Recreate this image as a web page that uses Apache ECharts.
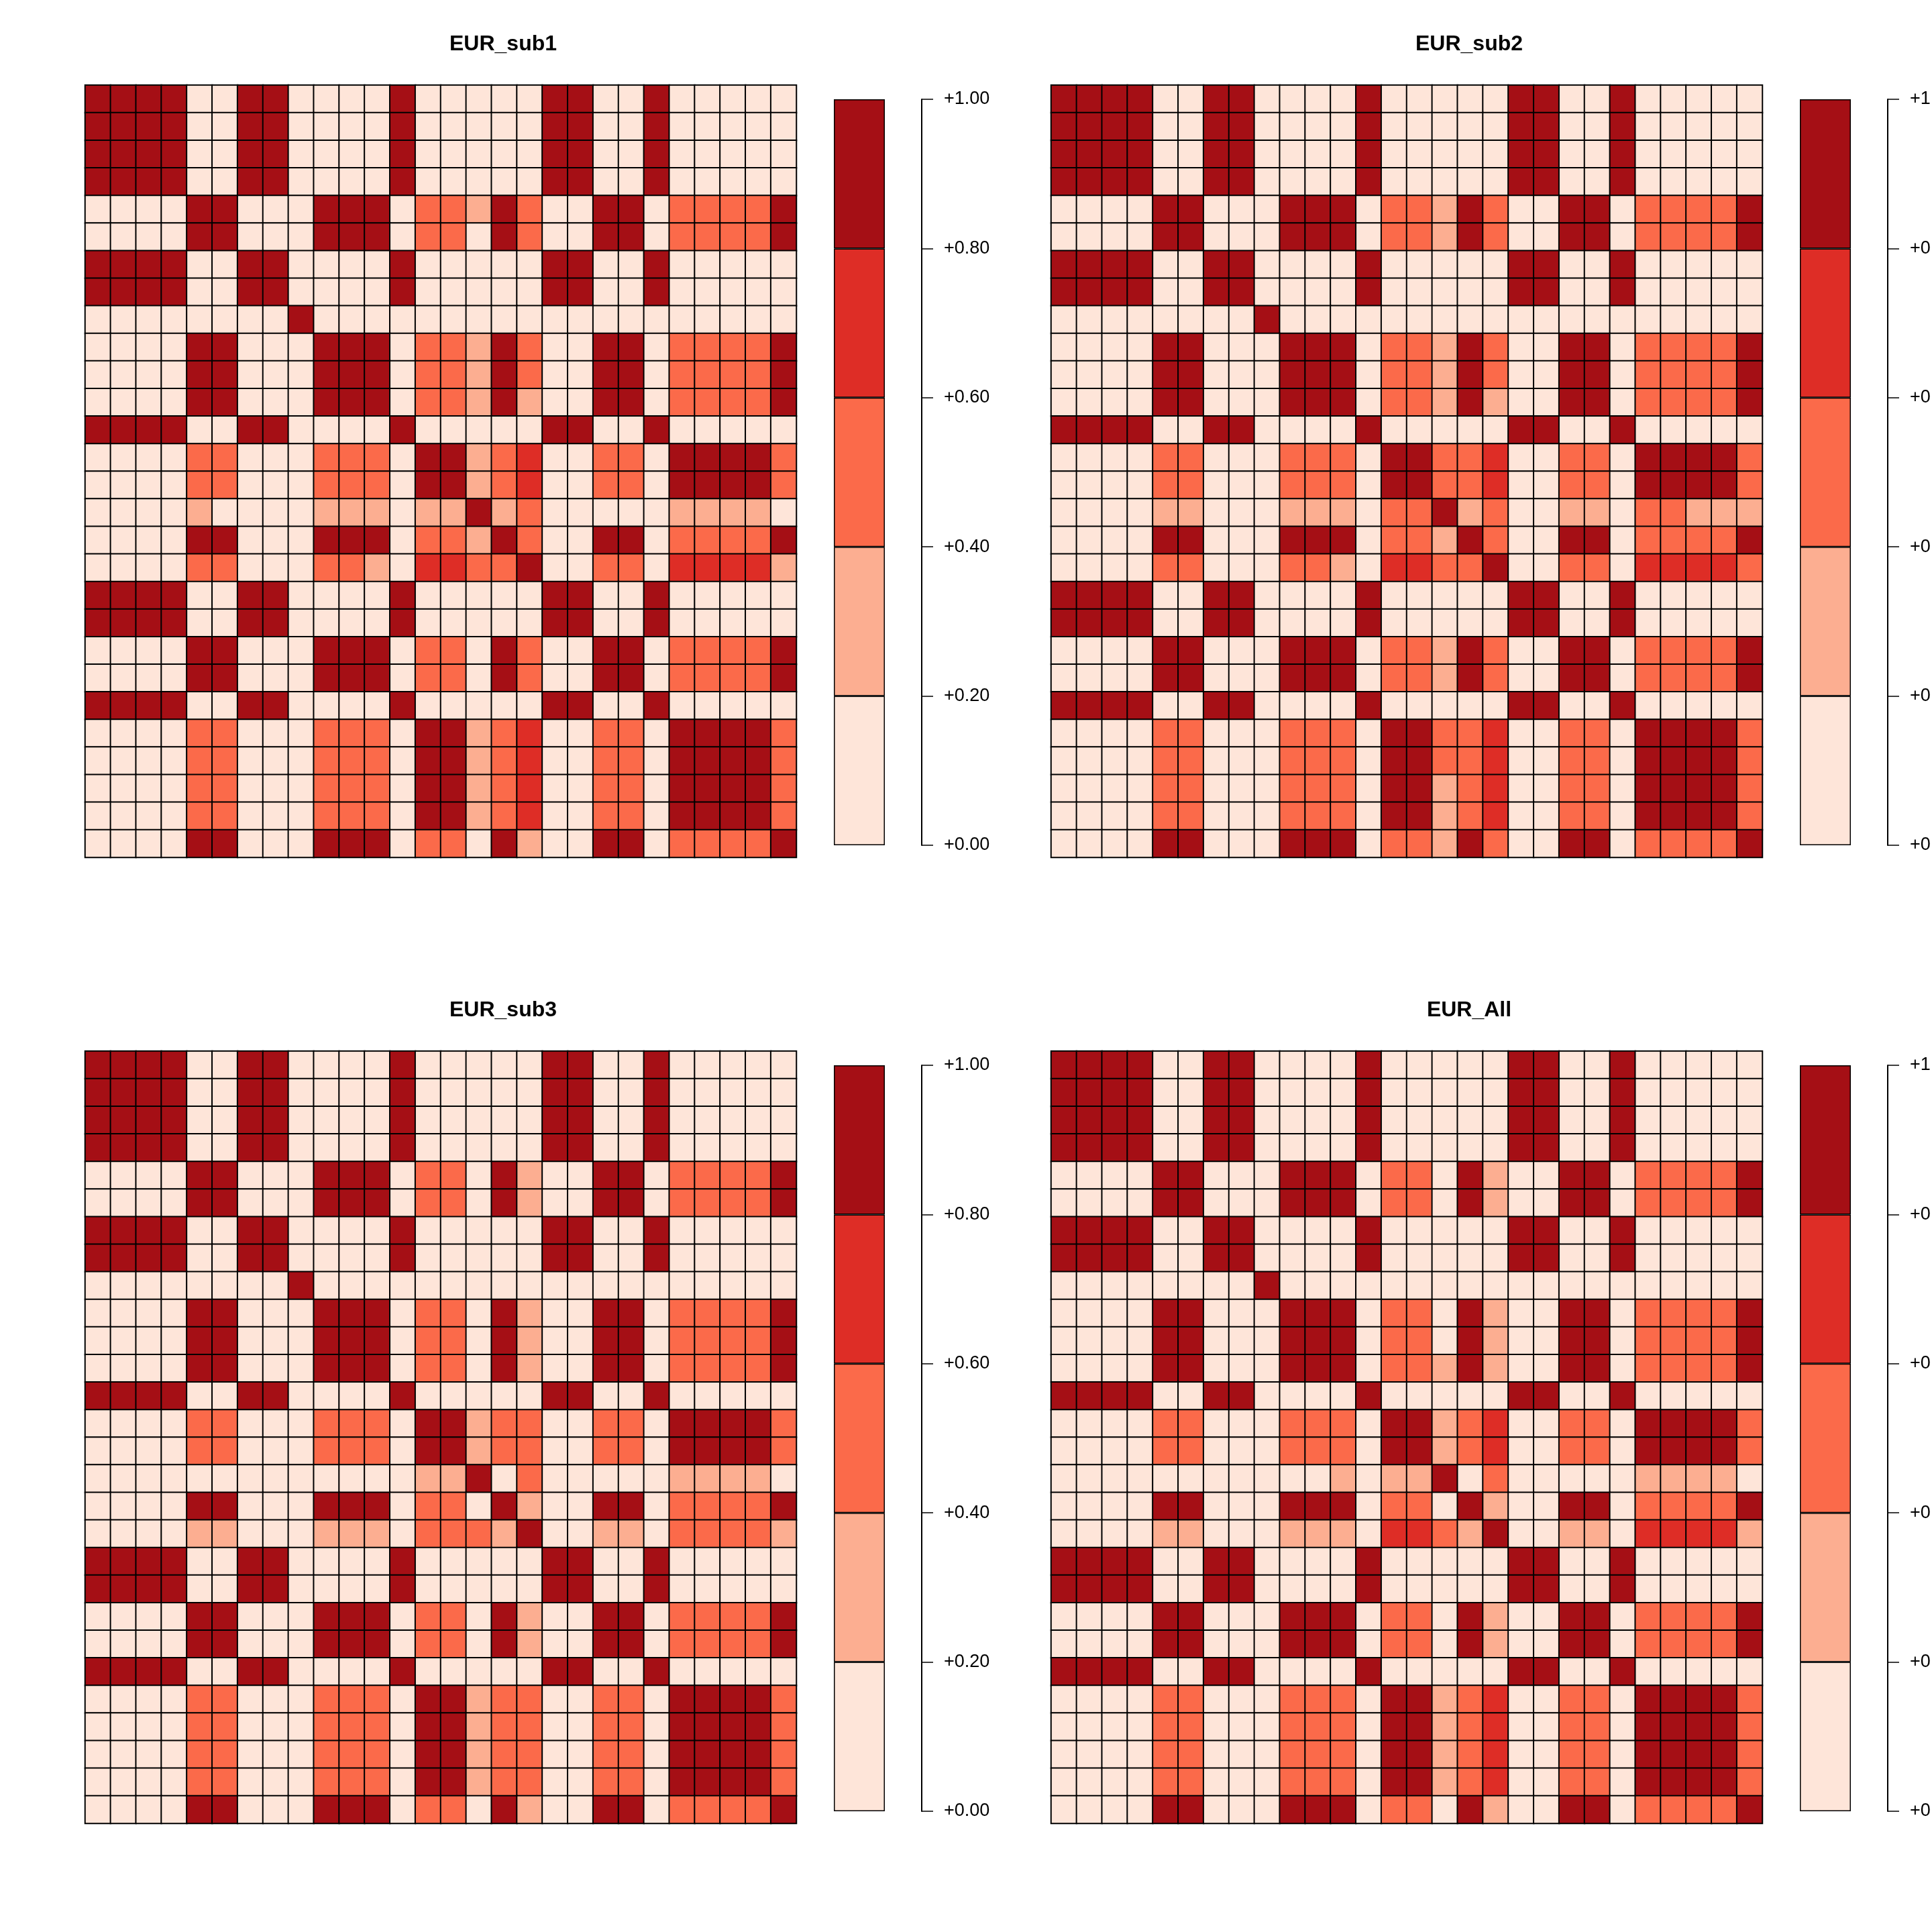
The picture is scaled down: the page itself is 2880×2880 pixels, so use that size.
<!DOCTYPE html>
<html>
<head>
<meta charset="utf-8">
<script src="https://cdn.jsdelivr.net/npm/echarts@6/dist/echarts.min.js"></script>
<style>
html,body{margin:0;padding:0;background:#fff;}
#chart{width:2880px;height:2880px;}
</style>
</head>
<body>
<div id="chart"></div>
<script>
// ---------------- data ----------------
const categories = ['1','2','3','4','5','6','7','8','9','10','11','12','13','14','15','16','17','18','19','20','21','22','23','24','25','26','27','28'];
const panelTitles = ['EUR_sub1', 'EUR_sub2', 'EUR_sub3', 'EUR_All'];
const colorBreaks = [0, 0.2, 0.4, 0.6, 0.8, 1.0];
const binColors = ['#FEE5D9', '#FCAE91', '#FB6A4A', '#DE2D26', '#A50F15'];
const tickLabels = ['+0.00', '+0.20', '+0.40', '+0.60', '+0.80', '+1.00'];

const EUR_sub1 = [
 [.9,.9,.9,.9,.1,.1,.9,.9,.1,.1,.1,.1,.9,.1,.1,.1,.1,.1,.9,.9,.1,.1,.9,.1,.1,.1,.1,.1],
 [.9,.9,.9,.9,.1,.1,.9,.9,.1,.1,.1,.1,.9,.1,.1,.1,.1,.1,.9,.9,.1,.1,.9,.1,.1,.1,.1,.1],
 [.9,.9,.9,.9,.1,.1,.9,.9,.1,.1,.1,.1,.9,.1,.1,.1,.1,.1,.9,.9,.1,.1,.9,.1,.1,.1,.1,.1],
 [.9,.9,.9,.9,.1,.1,.9,.9,.1,.1,.1,.1,.9,.1,.1,.1,.1,.1,.9,.9,.1,.1,.9,.1,.1,.1,.1,.1],
 [.1,.1,.1,.1,.9,.9,.1,.1,.1,.9,.9,.9,.1,.5,.5,.3,.9,.5,.1,.1,.9,.9,.1,.5,.5,.5,.5,.9],
 [.1,.1,.1,.1,.9,.9,.1,.1,.1,.9,.9,.9,.1,.5,.5,.1,.9,.5,.1,.1,.9,.9,.1,.5,.5,.5,.5,.9],
 [.9,.9,.9,.9,.1,.1,.9,.9,.1,.1,.1,.1,.9,.1,.1,.1,.1,.1,.9,.9,.1,.1,.9,.1,.1,.1,.1,.1],
 [.9,.9,.9,.9,.1,.1,.9,.9,.1,.1,.1,.1,.9,.1,.1,.1,.1,.1,.9,.9,.1,.1,.9,.1,.1,.1,.1,.1],
 [.1,.1,.1,.1,.1,.1,.1,.1,.9,.1,.1,.1,.1,.1,.1,.1,.1,.1,.1,.1,.1,.1,.1,.1,.1,.1,.1,.1],
 [.1,.1,.1,.1,.9,.9,.1,.1,.1,.9,.9,.9,.1,.5,.5,.3,.9,.5,.1,.1,.9,.9,.1,.5,.5,.5,.5,.9],
 [.1,.1,.1,.1,.9,.9,.1,.1,.1,.9,.9,.9,.1,.5,.5,.3,.9,.5,.1,.1,.9,.9,.1,.5,.5,.5,.5,.9],
 [.1,.1,.1,.1,.9,.9,.1,.1,.1,.9,.9,.9,.1,.5,.5,.3,.9,.3,.1,.1,.9,.9,.1,.5,.5,.5,.5,.9],
 [.9,.9,.9,.9,.1,.1,.9,.9,.1,.1,.1,.1,.9,.1,.1,.1,.1,.1,.9,.9,.1,.1,.9,.1,.1,.1,.1,.1],
 [.1,.1,.1,.1,.5,.5,.1,.1,.1,.5,.5,.5,.1,.9,.9,.3,.5,.7,.1,.1,.5,.5,.1,.9,.9,.9,.9,.5],
 [.1,.1,.1,.1,.5,.5,.1,.1,.1,.5,.5,.5,.1,.9,.9,.3,.5,.7,.1,.1,.5,.5,.1,.9,.9,.9,.9,.5],
 [.1,.1,.1,.1,.3,.1,.1,.1,.1,.3,.3,.3,.1,.3,.3,.9,.3,.5,.1,.1,.1,.1,.1,.3,.3,.3,.3,.1],
 [.1,.1,.1,.1,.9,.9,.1,.1,.1,.9,.9,.9,.1,.5,.5,.3,.9,.5,.1,.1,.9,.9,.1,.5,.5,.5,.5,.9],
 [.1,.1,.1,.1,.5,.5,.1,.1,.1,.5,.5,.3,.1,.7,.7,.5,.5,.9,.1,.1,.5,.5,.1,.7,.7,.7,.7,.3],
 [.9,.9,.9,.9,.1,.1,.9,.9,.1,.1,.1,.1,.9,.1,.1,.1,.1,.1,.9,.9,.1,.1,.9,.1,.1,.1,.1,.1],
 [.9,.9,.9,.9,.1,.1,.9,.9,.1,.1,.1,.1,.9,.1,.1,.1,.1,.1,.9,.9,.1,.1,.9,.1,.1,.1,.1,.1],
 [.1,.1,.1,.1,.9,.9,.1,.1,.1,.9,.9,.9,.1,.5,.5,.1,.9,.5,.1,.1,.9,.9,.1,.5,.5,.5,.5,.9],
 [.1,.1,.1,.1,.9,.9,.1,.1,.1,.9,.9,.9,.1,.5,.5,.1,.9,.5,.1,.1,.9,.9,.1,.5,.5,.5,.5,.9],
 [.9,.9,.9,.9,.1,.1,.9,.9,.1,.1,.1,.1,.9,.1,.1,.1,.1,.1,.9,.9,.1,.1,.9,.1,.1,.1,.1,.1],
 [.1,.1,.1,.1,.5,.5,.1,.1,.1,.5,.5,.5,.1,.9,.9,.3,.5,.7,.1,.1,.5,.5,.1,.9,.9,.9,.9,.5],
 [.1,.1,.1,.1,.5,.5,.1,.1,.1,.5,.5,.5,.1,.9,.9,.3,.5,.7,.1,.1,.5,.5,.1,.9,.9,.9,.9,.5],
 [.1,.1,.1,.1,.5,.5,.1,.1,.1,.5,.5,.5,.1,.9,.9,.3,.5,.7,.1,.1,.5,.5,.1,.9,.9,.9,.9,.5],
 [.1,.1,.1,.1,.5,.5,.1,.1,.1,.5,.5,.5,.1,.9,.9,.3,.5,.7,.1,.1,.5,.5,.1,.9,.9,.9,.9,.5],
 [.1,.1,.1,.1,.9,.9,.1,.1,.1,.9,.9,.9,.1,.5,.5,.1,.9,.3,.1,.1,.9,.9,.1,.5,.5,.5,.5,.9]
];

const EUR_sub2 = [
 [.9,.9,.9,.9,.1,.1,.9,.9,.1,.1,.1,.1,.9,.1,.1,.1,.1,.1,.9,.9,.1,.1,.9,.1,.1,.1,.1,.1],
 [.9,.9,.9,.9,.1,.1,.9,.9,.1,.1,.1,.1,.9,.1,.1,.1,.1,.1,.9,.9,.1,.1,.9,.1,.1,.1,.1,.1],
 [.9,.9,.9,.9,.1,.1,.9,.9,.1,.1,.1,.1,.9,.1,.1,.1,.1,.1,.9,.9,.1,.1,.9,.1,.1,.1,.1,.1],
 [.9,.9,.9,.9,.1,.1,.9,.9,.1,.1,.1,.1,.9,.1,.1,.1,.1,.1,.9,.9,.1,.1,.9,.1,.1,.1,.1,.1],
 [.1,.1,.1,.1,.9,.9,.1,.1,.1,.9,.9,.9,.1,.5,.5,.3,.9,.5,.1,.1,.9,.9,.1,.5,.5,.5,.5,.9],
 [.1,.1,.1,.1,.9,.9,.1,.1,.1,.9,.9,.9,.1,.5,.5,.3,.9,.5,.1,.1,.9,.9,.1,.5,.5,.5,.5,.9],
 [.9,.9,.9,.9,.1,.1,.9,.9,.1,.1,.1,.1,.9,.1,.1,.1,.1,.1,.9,.9,.1,.1,.9,.1,.1,.1,.1,.1],
 [.9,.9,.9,.9,.1,.1,.9,.9,.1,.1,.1,.1,.9,.1,.1,.1,.1,.1,.9,.9,.1,.1,.9,.1,.1,.1,.1,.1],
 [.1,.1,.1,.1,.1,.1,.1,.1,.9,.1,.1,.1,.1,.1,.1,.1,.1,.1,.1,.1,.1,.1,.1,.1,.1,.1,.1,.1],
 [.1,.1,.1,.1,.9,.9,.1,.1,.1,.9,.9,.9,.1,.5,.5,.3,.9,.5,.1,.1,.9,.9,.1,.5,.5,.5,.5,.9],
 [.1,.1,.1,.1,.9,.9,.1,.1,.1,.9,.9,.9,.1,.5,.5,.3,.9,.5,.1,.1,.9,.9,.1,.5,.5,.5,.5,.9],
 [.1,.1,.1,.1,.9,.9,.1,.1,.1,.9,.9,.9,.1,.5,.5,.3,.9,.3,.1,.1,.9,.9,.1,.5,.5,.5,.5,.9],
 [.9,.9,.9,.9,.1,.1,.9,.9,.1,.1,.1,.1,.9,.1,.1,.1,.1,.1,.9,.9,.1,.1,.9,.1,.1,.1,.1,.1],
 [.1,.1,.1,.1,.5,.5,.1,.1,.1,.5,.5,.5,.1,.9,.9,.5,.5,.7,.1,.1,.5,.5,.1,.9,.9,.9,.9,.5],
 [.1,.1,.1,.1,.5,.5,.1,.1,.1,.5,.5,.5,.1,.9,.9,.5,.5,.7,.1,.1,.5,.5,.1,.9,.9,.9,.9,.5],
 [.1,.1,.1,.1,.3,.3,.1,.1,.1,.3,.3,.3,.1,.5,.5,.9,.3,.5,.1,.1,.3,.3,.1,.5,.5,.3,.3,.3],
 [.1,.1,.1,.1,.9,.9,.1,.1,.1,.9,.9,.9,.1,.5,.5,.3,.9,.5,.1,.1,.9,.9,.1,.5,.5,.5,.5,.9],
 [.1,.1,.1,.1,.5,.5,.1,.1,.1,.5,.5,.3,.1,.7,.7,.5,.5,.9,.1,.1,.5,.5,.1,.7,.7,.7,.7,.5],
 [.9,.9,.9,.9,.1,.1,.9,.9,.1,.1,.1,.1,.9,.1,.1,.1,.1,.1,.9,.9,.1,.1,.9,.1,.1,.1,.1,.1],
 [.9,.9,.9,.9,.1,.1,.9,.9,.1,.1,.1,.1,.9,.1,.1,.1,.1,.1,.9,.9,.1,.1,.9,.1,.1,.1,.1,.1],
 [.1,.1,.1,.1,.9,.9,.1,.1,.1,.9,.9,.9,.1,.5,.5,.3,.9,.5,.1,.1,.9,.9,.1,.5,.5,.5,.5,.9],
 [.1,.1,.1,.1,.9,.9,.1,.1,.1,.9,.9,.9,.1,.5,.5,.3,.9,.5,.1,.1,.9,.9,.1,.5,.5,.5,.5,.9],
 [.9,.9,.9,.9,.1,.1,.9,.9,.1,.1,.1,.1,.9,.1,.1,.1,.1,.1,.9,.9,.1,.1,.9,.1,.1,.1,.1,.1],
 [.1,.1,.1,.1,.5,.5,.1,.1,.1,.5,.5,.5,.1,.9,.9,.5,.5,.7,.1,.1,.5,.5,.1,.9,.9,.9,.9,.5],
 [.1,.1,.1,.1,.5,.5,.1,.1,.1,.5,.5,.5,.1,.9,.9,.5,.5,.7,.1,.1,.5,.5,.1,.9,.9,.9,.9,.5],
 [.1,.1,.1,.1,.5,.5,.1,.1,.1,.5,.5,.5,.1,.9,.9,.3,.5,.7,.1,.1,.5,.5,.1,.9,.9,.9,.9,.5],
 [.1,.1,.1,.1,.5,.5,.1,.1,.1,.5,.5,.5,.1,.9,.9,.3,.5,.7,.1,.1,.5,.5,.1,.9,.9,.9,.9,.5],
 [.1,.1,.1,.1,.9,.9,.1,.1,.1,.9,.9,.9,.1,.5,.5,.3,.9,.5,.1,.1,.9,.9,.1,.5,.5,.5,.5,.9]
];

const EUR_sub3 = [
 [.9,.9,.9,.9,.1,.1,.9,.9,.1,.1,.1,.1,.9,.1,.1,.1,.1,.1,.9,.9,.1,.1,.9,.1,.1,.1,.1,.1],
 [.9,.9,.9,.9,.1,.1,.9,.9,.1,.1,.1,.1,.9,.1,.1,.1,.1,.1,.9,.9,.1,.1,.9,.1,.1,.1,.1,.1],
 [.9,.9,.9,.9,.1,.1,.9,.9,.1,.1,.1,.1,.9,.1,.1,.1,.1,.1,.9,.9,.1,.1,.9,.1,.1,.1,.1,.1],
 [.9,.9,.9,.9,.1,.1,.9,.9,.1,.1,.1,.1,.9,.1,.1,.1,.1,.1,.9,.9,.1,.1,.9,.1,.1,.1,.1,.1],
 [.1,.1,.1,.1,.9,.9,.1,.1,.1,.9,.9,.9,.1,.5,.5,.1,.9,.3,.1,.1,.9,.9,.1,.5,.5,.5,.5,.9],
 [.1,.1,.1,.1,.9,.9,.1,.1,.1,.9,.9,.9,.1,.5,.5,.1,.9,.3,.1,.1,.9,.9,.1,.5,.5,.5,.5,.9],
 [.9,.9,.9,.9,.1,.1,.9,.9,.1,.1,.1,.1,.9,.1,.1,.1,.1,.1,.9,.9,.1,.1,.9,.1,.1,.1,.1,.1],
 [.9,.9,.9,.9,.1,.1,.9,.9,.1,.1,.1,.1,.9,.1,.1,.1,.1,.1,.9,.9,.1,.1,.9,.1,.1,.1,.1,.1],
 [.1,.1,.1,.1,.1,.1,.1,.1,.9,.1,.1,.1,.1,.1,.1,.1,.1,.1,.1,.1,.1,.1,.1,.1,.1,.1,.1,.1],
 [.1,.1,.1,.1,.9,.9,.1,.1,.1,.9,.9,.9,.1,.5,.5,.1,.9,.3,.1,.1,.9,.9,.1,.5,.5,.5,.5,.9],
 [.1,.1,.1,.1,.9,.9,.1,.1,.1,.9,.9,.9,.1,.5,.5,.1,.9,.3,.1,.1,.9,.9,.1,.5,.5,.5,.5,.9],
 [.1,.1,.1,.1,.9,.9,.1,.1,.1,.9,.9,.9,.1,.5,.5,.1,.9,.3,.1,.1,.9,.9,.1,.5,.5,.5,.5,.9],
 [.9,.9,.9,.9,.1,.1,.9,.9,.1,.1,.1,.1,.9,.1,.1,.1,.1,.1,.9,.9,.1,.1,.9,.1,.1,.1,.1,.1],
 [.1,.1,.1,.1,.5,.5,.1,.1,.1,.5,.5,.5,.1,.9,.9,.3,.5,.5,.1,.1,.5,.5,.1,.9,.9,.9,.9,.5],
 [.1,.1,.1,.1,.5,.5,.1,.1,.1,.5,.5,.5,.1,.9,.9,.3,.5,.5,.1,.1,.5,.5,.1,.9,.9,.9,.9,.5],
 [.1,.1,.1,.1,.1,.1,.1,.1,.1,.1,.1,.1,.1,.3,.3,.9,.1,.5,.1,.1,.1,.1,.1,.3,.3,.3,.3,.1],
 [.1,.1,.1,.1,.9,.9,.1,.1,.1,.9,.9,.9,.1,.5,.5,.1,.9,.3,.1,.1,.9,.9,.1,.5,.5,.5,.5,.9],
 [.1,.1,.1,.1,.3,.3,.1,.1,.1,.3,.3,.3,.1,.5,.5,.5,.3,.9,.1,.1,.3,.3,.1,.5,.5,.5,.5,.3],
 [.9,.9,.9,.9,.1,.1,.9,.9,.1,.1,.1,.1,.9,.1,.1,.1,.1,.1,.9,.9,.1,.1,.9,.1,.1,.1,.1,.1],
 [.9,.9,.9,.9,.1,.1,.9,.9,.1,.1,.1,.1,.9,.1,.1,.1,.1,.1,.9,.9,.1,.1,.9,.1,.1,.1,.1,.1],
 [.1,.1,.1,.1,.9,.9,.1,.1,.1,.9,.9,.9,.1,.5,.5,.1,.9,.3,.1,.1,.9,.9,.1,.5,.5,.5,.5,.9],
 [.1,.1,.1,.1,.9,.9,.1,.1,.1,.9,.9,.9,.1,.5,.5,.1,.9,.3,.1,.1,.9,.9,.1,.5,.5,.5,.5,.9],
 [.9,.9,.9,.9,.1,.1,.9,.9,.1,.1,.1,.1,.9,.1,.1,.1,.1,.1,.9,.9,.1,.1,.9,.1,.1,.1,.1,.1],
 [.1,.1,.1,.1,.5,.5,.1,.1,.1,.5,.5,.5,.1,.9,.9,.3,.5,.5,.1,.1,.5,.5,.1,.9,.9,.9,.9,.5],
 [.1,.1,.1,.1,.5,.5,.1,.1,.1,.5,.5,.5,.1,.9,.9,.3,.5,.5,.1,.1,.5,.5,.1,.9,.9,.9,.9,.5],
 [.1,.1,.1,.1,.5,.5,.1,.1,.1,.5,.5,.5,.1,.9,.9,.3,.5,.5,.1,.1,.5,.5,.1,.9,.9,.9,.9,.5],
 [.1,.1,.1,.1,.5,.5,.1,.1,.1,.5,.5,.5,.1,.9,.9,.3,.5,.5,.1,.1,.5,.5,.1,.9,.9,.9,.9,.5],
 [.1,.1,.1,.1,.9,.9,.1,.1,.1,.9,.9,.9,.1,.5,.5,.1,.9,.3,.1,.1,.9,.9,.1,.5,.5,.5,.5,.9]
];

const EUR_All = [
 [.9,.9,.9,.9,.1,.1,.9,.9,.1,.1,.1,.1,.9,.1,.1,.1,.1,.1,.9,.9,.1,.1,.9,.1,.1,.1,.1,.1],
 [.9,.9,.9,.9,.1,.1,.9,.9,.1,.1,.1,.1,.9,.1,.1,.1,.1,.1,.9,.9,.1,.1,.9,.1,.1,.1,.1,.1],
 [.9,.9,.9,.9,.1,.1,.9,.9,.1,.1,.1,.1,.9,.1,.1,.1,.1,.1,.9,.9,.1,.1,.9,.1,.1,.1,.1,.1],
 [.9,.9,.9,.9,.1,.1,.9,.9,.1,.1,.1,.1,.9,.1,.1,.1,.1,.1,.9,.9,.1,.1,.9,.1,.1,.1,.1,.1],
 [.1,.1,.1,.1,.9,.9,.1,.1,.1,.9,.9,.9,.1,.5,.5,.1,.9,.3,.1,.1,.9,.9,.1,.5,.5,.5,.5,.9],
 [.1,.1,.1,.1,.9,.9,.1,.1,.1,.9,.9,.9,.1,.5,.5,.1,.9,.3,.1,.1,.9,.9,.1,.5,.5,.5,.5,.9],
 [.9,.9,.9,.9,.1,.1,.9,.9,.1,.1,.1,.1,.9,.1,.1,.1,.1,.1,.9,.9,.1,.1,.9,.1,.1,.1,.1,.1],
 [.9,.9,.9,.9,.1,.1,.9,.9,.1,.1,.1,.1,.9,.1,.1,.1,.1,.1,.9,.9,.1,.1,.9,.1,.1,.1,.1,.1],
 [.1,.1,.1,.1,.1,.1,.1,.1,.9,.1,.1,.1,.1,.1,.1,.1,.1,.1,.1,.1,.1,.1,.1,.1,.1,.1,.1,.1],
 [.1,.1,.1,.1,.9,.9,.1,.1,.1,.9,.9,.9,.1,.5,.5,.1,.9,.3,.1,.1,.9,.9,.1,.5,.5,.5,.5,.9],
 [.1,.1,.1,.1,.9,.9,.1,.1,.1,.9,.9,.9,.1,.5,.5,.1,.9,.3,.1,.1,.9,.9,.1,.5,.5,.5,.5,.9],
 [.1,.1,.1,.1,.9,.9,.1,.1,.1,.9,.9,.9,.1,.5,.5,.3,.9,.3,.1,.1,.9,.9,.1,.5,.5,.5,.5,.9],
 [.9,.9,.9,.9,.1,.1,.9,.9,.1,.1,.1,.1,.9,.1,.1,.1,.1,.1,.9,.9,.1,.1,.9,.1,.1,.1,.1,.1],
 [.1,.1,.1,.1,.5,.5,.1,.1,.1,.5,.5,.5,.1,.9,.9,.3,.5,.7,.1,.1,.5,.5,.1,.9,.9,.9,.9,.5],
 [.1,.1,.1,.1,.5,.5,.1,.1,.1,.5,.5,.5,.1,.9,.9,.3,.5,.7,.1,.1,.5,.5,.1,.9,.9,.9,.9,.5],
 [.1,.1,.1,.1,.1,.1,.1,.1,.1,.1,.1,.3,.1,.3,.3,.9,.1,.5,.1,.1,.1,.1,.1,.3,.3,.3,.3,.1],
 [.1,.1,.1,.1,.9,.9,.1,.1,.1,.9,.9,.9,.1,.5,.5,.1,.9,.3,.1,.1,.9,.9,.1,.5,.5,.5,.5,.9],
 [.1,.1,.1,.1,.3,.3,.1,.1,.1,.3,.3,.3,.1,.7,.7,.5,.3,.9,.1,.1,.3,.3,.1,.7,.7,.7,.7,.3],
 [.9,.9,.9,.9,.1,.1,.9,.9,.1,.1,.1,.1,.9,.1,.1,.1,.1,.1,.9,.9,.1,.1,.9,.1,.1,.1,.1,.1],
 [.9,.9,.9,.9,.1,.1,.9,.9,.1,.1,.1,.1,.9,.1,.1,.1,.1,.1,.9,.9,.1,.1,.9,.1,.1,.1,.1,.1],
 [.1,.1,.1,.1,.9,.9,.1,.1,.1,.9,.9,.9,.1,.5,.5,.1,.9,.3,.1,.1,.9,.9,.1,.5,.5,.5,.5,.9],
 [.1,.1,.1,.1,.9,.9,.1,.1,.1,.9,.9,.9,.1,.5,.5,.1,.9,.3,.1,.1,.9,.9,.1,.5,.5,.5,.5,.9],
 [.9,.9,.9,.9,.1,.1,.9,.9,.1,.1,.1,.1,.9,.1,.1,.1,.1,.1,.9,.9,.1,.1,.9,.1,.1,.1,.1,.1],
 [.1,.1,.1,.1,.5,.5,.1,.1,.1,.5,.5,.5,.1,.9,.9,.3,.5,.7,.1,.1,.5,.5,.1,.9,.9,.9,.9,.5],
 [.1,.1,.1,.1,.5,.5,.1,.1,.1,.5,.5,.5,.1,.9,.9,.3,.5,.7,.1,.1,.5,.5,.1,.9,.9,.9,.9,.5],
 [.1,.1,.1,.1,.5,.5,.1,.1,.1,.5,.5,.5,.1,.9,.9,.3,.5,.7,.1,.1,.5,.5,.1,.9,.9,.9,.9,.5],
 [.1,.1,.1,.1,.5,.5,.1,.1,.1,.5,.5,.5,.1,.9,.9,.3,.5,.7,.1,.1,.5,.5,.1,.9,.9,.9,.9,.5],
 [.1,.1,.1,.1,.9,.9,.1,.1,.1,.9,.9,.9,.1,.5,.5,.1,.9,.3,.1,.1,.9,.9,.1,.5,.5,.5,.5,.9]
];

const matrices = [EUR_sub1, EUR_sub2, EUR_sub3, EUR_All];

// ---------------- layout ----------------
const FONT = '"Liberation Sans", Arial, Helvetica, sans-serif';
const offsets = [[0, 0], [1440, 0], [0, 1440], [1440, 1440]];
const HEAT = { left: 127, top: 127, width: 1060, height: 1151 };
const BAR = { left: 1243, top: 148, width: 76, height: 1112 };

const grid = [], xAxis = [], yAxis = [], series = [], graphic = [];

offsets.forEach(([ox, oy], p) => {
  const gH = grid.length;
  grid.push({ left: HEAT.left + ox, top: HEAT.top + oy, width: HEAT.width, height: HEAT.height, containLabel: false, outerBoundsMode: 'none' });
  xAxis.push({ type: 'category', gridIndex: gH, data: categories, show: false });
  yAxis.push({ type: 'category', gridIndex: gH, data: categories, inverse: true, show: false });
  const data = [];
  matrices[p].forEach((row, r) => row.forEach((v, c) => data.push([c, r, v])));
  series.push({
    type: 'heatmap', xAxisIndex: gH, yAxisIndex: gH, data: data,
    itemStyle: { borderColor: '#000', borderWidth: 2 },
    emphasis: { disabled: true }, silent: true
  });

  const gB = grid.length;
  grid.push({ left: BAR.left + ox, top: BAR.top + oy, width: BAR.width, height: BAR.height, containLabel: false, outerBoundsMode: 'none' });
  xAxis.push({ type: 'category', gridIndex: gB, data: ['key'], show: false });
  yAxis.push({
    type: 'value', gridIndex: gB, min: 0, max: 1, interval: 0.2,
    position: 'right', offset: 1374 - (BAR.left + BAR.width),
    splitLine: { show: false },
    axisLine: { show: true, lineStyle: { color: '#000', width: 2 } },
    axisTick: { show: true, inside: false, length: 17, lineStyle: { color: '#000', width: 1.5 } },
    axisLabel: {
      show: true, margin: 33, color: '#000', fontFamily: FONT, fontSize: 27,
      formatter: v => tickLabels[Math.round(v / 0.2)]
    }
  });
  for (let k = 0; k < binColors.length; k++) {
    series.push({
      type: 'bar', xAxisIndex: gB, yAxisIndex: gB, stack: 'key' + p,
      barWidth: '100%', silent: true,
      data: [+(colorBreaks[k + 1] - colorBreaks[k]).toFixed(2)],
      itemStyle: { color: binColors[k], borderColor: '#000', borderWidth: 1.5 }
    });
  }

  graphic.push({
    type: 'text', x: 750 + ox, y: 66 + oy, silent: true,
    style: { text: panelTitles[p], fill: '#000', font: 'bold 32px ' + FONT, textAlign: 'center', textVerticalAlign: 'middle' }
  });
});

const chart = echarts.init(document.getElementById('chart'), null, { renderer: 'canvas' });
chart.setOption({
  animation: false,
  backgroundColor: '#fff',
  grid, xAxis, yAxis, series, graphic,
  visualMap: {
    type: 'piecewise', show: false, seriesIndex: [0, 6, 12, 18],
    pieces: binColors.map((c, k) => ({ gte: colorBreaks[k], lt: colorBreaks[k + 1], color: c }))
  }
});
</script>
</body>
</html>
